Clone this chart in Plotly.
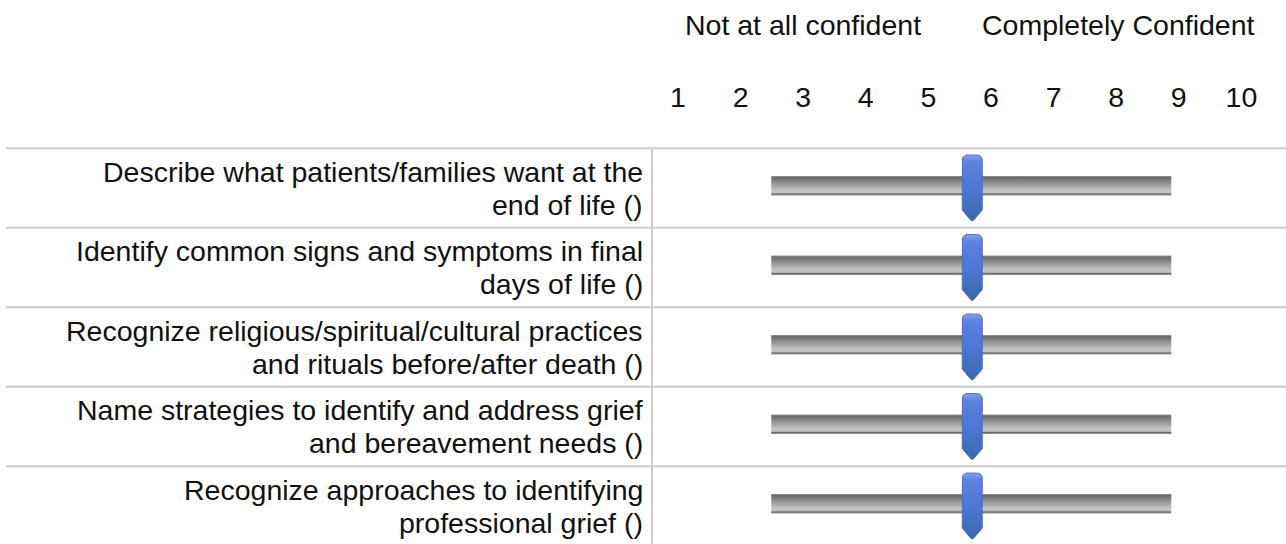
import numpy as np
import plotly.graph_objects as go

# ---------------- data ----------------
statements = [
    ["Describe what patients/families want at the", "end of life ()"],
    ["Identify common signs and symptoms in final", "days of life ()"],
    ["Recognize religious/spiritual/cultural practices", "and rituals before/after death ()"],
    ["Name strategies to identify and address grief", "and bereavement needs ()"],
    ["Recognize approaches to identifying", "professional grief ()"],
]
slider_values = [5.7, 5.7, 5.7, 5.7, 5.7]
scale_points = [1, 2, 3, 4, 5, 6, 7, 8, 9, 10]
scale_labels = ["1", "2", "3", "4", "5", "6", "7", "8", "9", "10"]
anchor_left = "Not at all confident"
anchor_right = "Completely Confident"
track_min, track_max = 2.49, 8.88

# ---------------- geometry (pixel -> axis units) ----------------
W, H = 1286, 544
PX_PER_X = 62.6          # pixels per scale point
PX_PER_ROW = 79.5        # pixels per row
X1_PX = 678.0            # pixel position of scale point 1
ROW0_PX = 188.0          # pixel centre of first row
x_range = [1 - X1_PX / PX_PER_X, 1 + (W - X1_PX) / PX_PER_X]
y_range = [(H - ROW0_PX) / PX_PER_ROW, -ROW0_PX / PX_PER_ROW]  # reversed

def dx(px):
    return px / PX_PER_X

def dy(px):
    return px / PX_PER_ROW

FONT = "Liberation Sans, Arial, Helvetica, sans-serif"
FS = 28.5
fig = go.Figure()

# slider tracks
track_scale = [
    [0.0, "#9a9a9a"], [0.08, "#6a6a6a"], [0.3, "#8a8a8a"],
    [0.75, "#c6c6c6"], [0.86, "#c0c0c0"], [0.92, "#6a6a6a"], [1.0, "#9a9a9a"],
]
for i in range(len(statements)):
    top, bot = i + dy(-12), i + dy(7.5)
    fig.add_trace(go.Scatter(
        x=[track_min, track_max, track_max, track_min, track_min],
        y=[top, top, bot, bot, top],
        mode="lines", line=dict(width=0, color="rgba(0,0,0,0)"),
        fill="toself",
        fillgradient=dict(type="vertical", colorscale=track_scale, start=top, stop=bot),
        hoverinfo="skip", showlegend=False,
    ))

# slider handles
ang = np.linspace(np.pi, np.pi / 2, 6)
hx, hy = [-10.0], [22.0]
for a in ang:
    hx.append(-5 + 5 * np.cos(a)); hy.append(-28 - 5 * np.sin(a))
for a in ang[::-1]:
    hx.append(5 - 5 * np.cos(a)); hy.append(-28 - 5 * np.sin(a))
hx += [10.0, 1.6, 0.0, -1.6, -10.0]
hy += [22.0, 32.0, 33.0, 32.0, 22.0]
handle_scale = [[0.0, "#8aa4ee"], [0.1, "#5c82e2"], [0.55, "#4b76d2"], [1.0, "#3a67a8"]]
for i, v in enumerate(slider_values):
    xs = [v + dx(p) for p in hx]
    ys = [i + dy(p) for p in hy]
    fig.add_trace(go.Scatter(
        x=xs, y=ys, mode="lines",
        line=dict(width=1, color="#4a6cc4"),
        fill="toself",
        fillgradient=dict(type="vertical", colorscale=handle_scale,
                          start=i + dy(-33), stop=i + dy(33)),
        hoverinfo="skip", showlegend=False,
    ))

# scale numbers
fig.add_trace(go.Scatter(
    x=scale_points, y=[dy(100 - ROW0_PX)] * len(scale_points),
    mode="text", text=scale_labels,
    textfont=dict(family=FONT, size=FS, color="#111111"),
    hoverinfo="skip", showlegend=False,
))

# anchor labels
fig.add_annotation(x=1 + dx(683 - X1_PX), y=dy(25 - ROW0_PX), xref="x", yref="y",
                   text=anchor_left, showarrow=False, xanchor="left", yanchor="middle",
                   font=dict(family=FONT, size=FS, color="#111111"))
fig.add_annotation(x=1 + dx(1257 - X1_PX), y=dy(25 - ROW0_PX), xref="x", yref="y",
                   text=anchor_right, showarrow=False, xanchor="right", yanchor="middle",
                   font=dict(family=FONT, size=FS, color="#111111"))

# row labels (two lines each)
for i, lines in enumerate(statements):
    for k, line in enumerate(lines):
        fig.add_annotation(x=645 / W, y=i + dy(-16.5 + 33 * k), xref="paper", yref="y",
                           text=line, showarrow=False, xanchor="right", yanchor="middle",
                           font=dict(family=FONT, size=FS, color="#111111"))

# table rules
for i in range(len(statements)):
    fig.add_shape(type="line", xref="paper", yref="y", x0=6 / W, x1=1,
                  y0=i - 0.5, y1=i - 0.5, line=dict(color="#cccccc", width=2))
fig.add_shape(type="line", xref="paper", yref="y", x0=652 / W, x1=652 / W,
              y0=-0.5, y1=len(statements) - 0.5 + 0.2, line=dict(color="#cccccc", width=2))

fig.update_layout(
    width=W, height=H,
    margin=dict(l=0, r=0, t=0, b=0),
    paper_bgcolor="white", plot_bgcolor="white",
    xaxis=dict(range=x_range, visible=False, fixedrange=True),
    yaxis=dict(range=y_range, visible=False, fixedrange=True),
    showlegend=False,
)
fig.write_html("out.html", config={"displayModeBar": False},
               post_script="document.body.style.margin='0';")
